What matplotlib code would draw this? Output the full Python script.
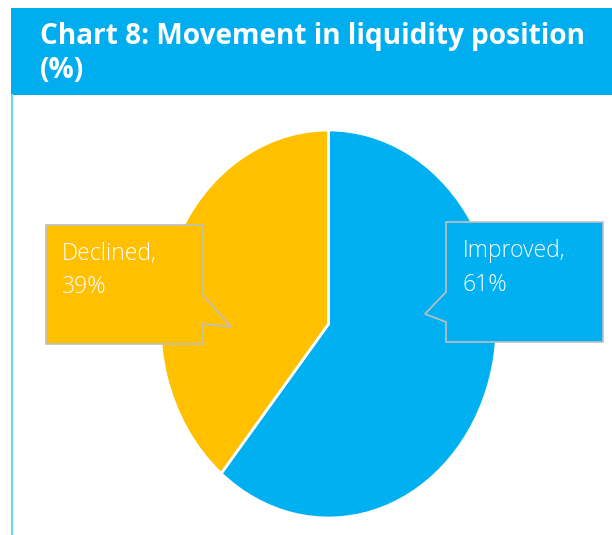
import matplotlib
matplotlib.use("Agg")
import matplotlib.pyplot as plt
from matplotlib.patches import Rectangle, Polygon

title_lines = ["Chart 8: Movement in liquidity position", "(%)"]
labels = ["Improved", "Declined"]
values = [61, 39]
colors = ["#00B0F0", "#FFC000"]

W, H = 612, 535
fig = plt.figure(figsize=(W / 100, H / 100), dpi=100)
renderer = fig.canvas.get_renderer()


def fit_width(t, target):
    bb = t.get_window_extent(renderer=renderer)
    t.set_fontsize(t.get_fontsize() * target / bb.width)


# background axes in pixel coordinates
bg = fig.add_axes([0, 0, 1, 1], zorder=0)
bg.set_xlim(0, W)
bg.set_ylim(H, 0)
bg.axis("off")
bg.add_patch(Rectangle((11, 8), W - 11, 87, facecolor="#00AEEF", edgecolor="none"))
bg.plot([11.5, 11.5], [95, H], color="#6FD3F7", lw=1.5)
t1 = bg.text(40, 44, title_lines[0], color="white", fontsize=20.5,
             fontweight="bold", family="Open Sans", va="baseline", ha="left")
fit_width(t1, 547)
bg.text(40, 78, title_lines[1], color="white", fontsize=t1.get_fontsize(),
        fontweight="bold", family="Open Sans", va="baseline", ha="left")

# pie axes (elliptical)
left, right, top, bottom = 160, 497, 130, 518
pax = fig.add_axes([left / W, (H - bottom) / H, (right - left) / W, (bottom - top) / H], zorder=1)
pax.pie(values, colors=colors, startangle=90, counterclock=False,
        wedgeprops=dict(edgecolor="white", linewidth=2))
pax.set_aspect("auto")
pax.set_xlim(-1, 1)
pax.set_ylim(-1, 1)
pax.axis("off")

# overlay for callouts
ov = fig.add_axes([0, 0, 1, 1], zorder=2)
ov.set_xlim(0, W)
ov.set_ylim(H, 0)
ov.axis("off")
ov.patch.set_alpha(0)

edge = "#BFBFBF"
lab_font = dict(color="white", family="Open Sans", fontweight="light",
                va="baseline", ha="left", fontsize=17)

# Improved callout (pointer on left)
imp = [(446, 222), (603, 222), (603, 342), (446, 342), (446, 322), (425, 314), (446, 292)]
ov.add_patch(Polygon(imp, closed=True, facecolor=colors[0], edgecolor=edge, lw=1.2))
a = ov.text(463, 257, f"{labels[0]},", **lab_font)
fit_width(a, 103)
lab_font["fontsize"] = a.get_fontsize()
ov.text(463, 291, f"{values[0]}%", **lab_font)

# Declined callout (pointer on right)
dec = [(46, 225), (203, 225), (203, 295), (231, 327), (203, 324), (203, 344), (46, 344)]
ov.add_patch(Polygon(dec, closed=True, facecolor=colors[1], edgecolor=edge, lw=1.2))
ov.text(62, 260, f"{labels[1]},", **lab_font)
ov.text(62, 293, f"{values[1]}%", **lab_font)

fig.savefig("out.png", dpi=100)
